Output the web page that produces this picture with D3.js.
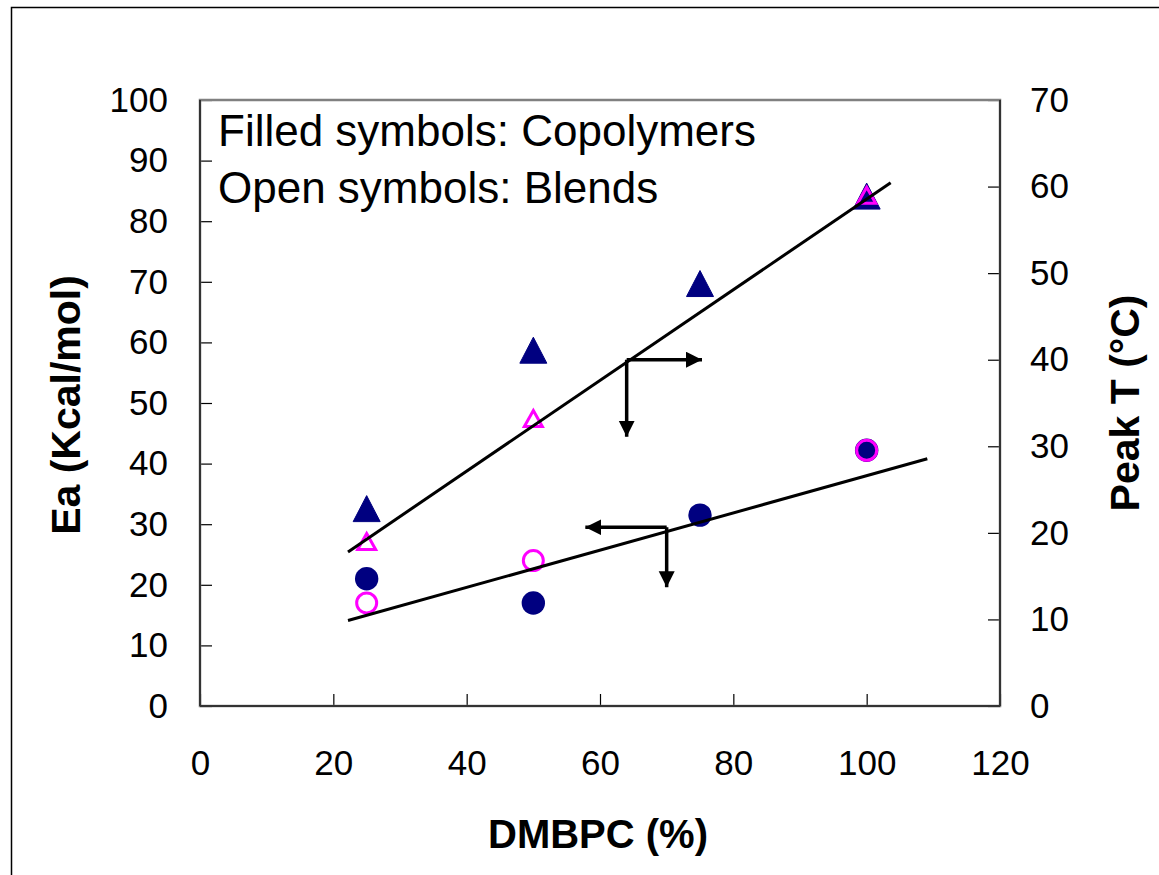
<!DOCTYPE html>
<html>
<head>
<meta charset="utf-8">
<script src="https://cdn.jsdelivr.net/npm/d3@7"></script>
<style>
  html, body { margin: 0; padding: 0; background: #fff; }
  svg { display: block; font-family: "Liberation Sans", Arial, sans-serif; }
</style>
</head>
<body>
<svg id="chart" width="1159" height="875"></svg>
<script>
// ---- data ----
const xTicks = [0, 20, 40, 60, 80, 100, 120];
const leftTicks = [0, 10, 20, 30, 40, 50, 60, 70, 80, 90, 100];
const rightTicks = [0, 10, 20, 30, 40, 50, 60, 70];

const copolymerX = [25, 50, 75, 100];
const eaCopolymer = [21, 17, 31.5, 42.2];
const peakCopolymer = [22.8, 41.1, 48.8, 58.9];

const blendX = [25, 50, 100];
const eaBlend = [17, 24, 42.2];
const peakBlend = [19, 33.2, 59];

const peakTrendX = [22.2, 103.6];
const peakTrendY = [17.8, 60.45];
const eaTrendX = [22.2, 109.1];
const eaTrendY = [14.1, 40.8];

// arrow annotations: corner, horizontal tip x, vertical tip y
const peakArrowCorner = [64, 40];
const peakArrowHTip = 75.3;
const peakArrowVTip = 31.1;
const eaArrowCorner = [70, 29.5];
const eaArrowHTip = 57.8;
const eaArrowVTip = 19.6;

const legendLines = ["Filled symbols: Copolymers", "Open symbols: Blends"];

// ---- layout ----
const svg = d3.select("#chart");
const L = 200, R = 1000, T = 100, B = 706;
const navy = "#000080", magenta = "#ff00ff";

const x = d3.scaleLinear().domain([0, 120]).range([L, R]);
const yL = d3.scaleLinear().domain([0, 100]).range([B, T]);
const yR = d3.scaleLinear().domain([0, 70]).range([B, T]);

// outer frame
svg.append("rect").attr("x", 11.5).attr("y", 7.5).attr("width", 1300).attr("height", 1000)
  .attr("fill", "none").attr("stroke", "#000").attr("stroke-width", 1.5);

// defs arrow marker
const defs = svg.append("defs");
defs.append("marker").attr("id", "ah").attr("markerUnits", "userSpaceOnUse")
  .attr("markerWidth", 20).attr("markerHeight", 18).attr("refX", 16).attr("refY", 8)
  .attr("orient", "auto")
  .append("path").attr("d", "M0,0 L16,8 L0,16 Z").attr("fill", "#000");

// axes
const fs = 35;
const gx = svg.append("g").attr("transform", `translate(0,${B})`)
  .call(d3.axisBottom(x).tickValues(xTicks).tickSize(-12).tickPadding(44).tickFormat(d3.format("d")));
const gl = svg.append("g").attr("transform", `translate(${L},0)`)
  .call(d3.axisLeft(yL).tickValues(leftTicks).tickSize(-12).tickPadding(32).tickFormat(d3.format("d")));
const gr = svg.append("g").attr("transform", `translate(${R},0)`)
  .call(d3.axisRight(yR).tickValues(rightTicks).tickSize(-12).tickPadding(30).tickFormat(d3.format("d")));
[gx, gl, gr].forEach(g => {
  g.select(".domain").remove();
  g.selectAll("text").attr("font-size", fs).attr("fill", "#000")
    .attr("font-family", "'Liberation Sans', Arial, sans-serif");
  g.selectAll("line").attr("stroke", "#000").attr("stroke-width", 1.2);
});

// plot box
svg.append("rect").attr("x", L).attr("y", T).attr("width", R - L).attr("height", B - T)
  .attr("fill", "none").attr("stroke", "#808080").attr("stroke-width", 2.5);
svg.append("line").attr("x1", L).attr("x2", L).attr("y1", T).attr("y2", B).attr("stroke", "#333").attr("stroke-width", 2);
svg.append("line").attr("x1", R).attr("x2", R).attr("y1", T).attr("y2", B).attr("stroke", "#333").attr("stroke-width", 2);
svg.append("line").attr("x1", L).attr("x2", R).attr("y1", B).attr("y2", B).attr("stroke", "#333").attr("stroke-width", 2);

// triangle path helper
function tri(cx, cy, w, h) {
  return `M${cx},${cy - h / 2} L${cx + w / 2},${cy + h / 2} L${cx - w / 2},${cy + h / 2} Z`;
}

// copolymer triangles (filled navy, right axis)
svg.append("g").selectAll("path").data(copolymerX).join("path")
  .attr("d", (d, i) => tri(x(d), yR(peakCopolymer[i]), 27, 26))
  .attr("fill", navy).attr("stroke", navy).attr("stroke-width", 1);
// copolymer circles (filled navy, left axis)
svg.append("g").selectAll("circle").data(copolymerX).join("circle")
  .attr("cx", d => x(d)).attr("cy", (d, i) => yL(eaCopolymer[i])).attr("r", 11.7)
  .attr("fill", navy);
// blend triangles (open magenta)
svg.append("g").selectAll("path").data(blendX).join("path")
  .attr("d", (d, i) => tri(x(d), yR(peakBlend[i]), 18, 16))
  .attr("fill", "none").attr("stroke", magenta).attr("stroke-width", 3).attr("stroke-linejoin", "miter");
// blend circles (open magenta)
svg.append("g").selectAll("circle").data(blendX).join("circle")
  .attr("cx", d => x(d)).attr("cy", (d, i) => yL(eaBlend[i])).attr("r", 10)
  .attr("fill", "none").attr("stroke", magenta).attr("stroke-width", 3);

// trend lines
const line = d3.line();
svg.append("path").attr("d", line(peakTrendX.map((d, i) => [x(d), yR(peakTrendY[i])])))
  .attr("stroke", "#000").attr("stroke-width", 3).attr("fill", "none");
svg.append("path").attr("d", line(eaTrendX.map((d, i) => [x(d), yL(eaTrendY[i])])))
  .attr("stroke", "#000").attr("stroke-width", 3).attr("fill", "none");

// arrows
function arrowPair(corner, hTip, vTip, ys) {
  const cx = x(corner[0]), cy = ys(corner[1]);
  svg.append("line").attr("x1", cx).attr("y1", cy).attr("x2", x(hTip)).attr("y2", cy)
    .attr("stroke", "#000").attr("stroke-width", 3.5).attr("marker-end", "url(#ah)");
  svg.append("line").attr("x1", cx).attr("y1", cy).attr("x2", cx).attr("y2", ys(vTip))
    .attr("stroke", "#000").attr("stroke-width", 3.5).attr("marker-end", "url(#ah)");
}
arrowPair(peakArrowCorner, peakArrowHTip, peakArrowVTip, yR);
arrowPair(eaArrowCorner, eaArrowHTip, eaArrowVTip, yL);

// legend text
svg.append("g").selectAll("text").data(legendLines).join("text")
  .attr("x", 218).attr("y", (d, i) => 146 + i * 57)
  .attr("font-size", 44).attr("fill", "#000").text(d => d);

// axis titles
svg.append("text").attr("x", 598).attr("y", 848).attr("text-anchor", "middle")
  .attr("font-size", 40).attr("font-weight", "bold").text("DMBPC (%)");
svg.append("text").attr("transform", "translate(66,405) rotate(-90)")
  .attr("text-anchor", "middle").attr("dy", "0.35em")
  .attr("font-size", 41).attr("font-weight", "bold").text("Ea (Kcal/mol)");
svg.append("text").attr("transform", "translate(1125,403) rotate(-90)")
  .attr("text-anchor", "middle").attr("dy", "0.35em")
  .attr("font-size", 41).attr("font-weight", "bold").text("Peak T (°C)");
</script>
</body>
</html>
